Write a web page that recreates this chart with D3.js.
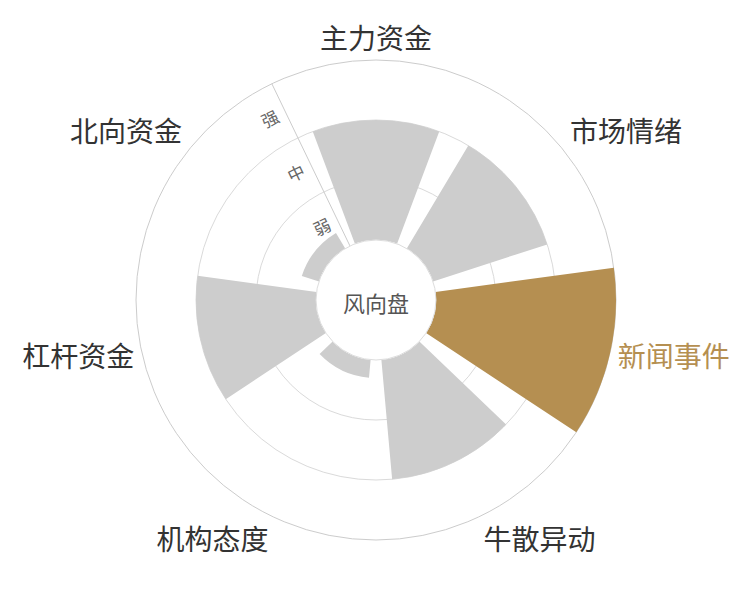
<!DOCTYPE html>
<html>
<head>
<meta charset="utf-8">
<script src="https://cdn.jsdelivr.net/npm/d3@7"></script>
<style>
  html, body { margin: 0; padding: 0; background: #fff; }
  #chart text { font-family: "Noto Sans CJK SC", "Noto Sans", sans-serif; }
</style>
</head>
<body>
<div id="chart"></div>
<script>
// categories round the dial, clockwise from the top
var categories = ["主力资金", "市场情绪", "新闻事件", "牛散异动", "机构态度", "杠杆资金", "北向资金"];
// strength of each category, 0..3 (弱 / 中 / 强 bands)
var strength = [2, 2, 3, 2, 0.3, 2, 0.3];
// radial tick labels
var levelLabels = ["弱", "中", "强"];
var highlightCategory = "新闻事件";
var centerTitle = "风向盘";

/**
 * Constructor for the wind dial
 */
function WindDial(){
    var self = this;
    self.init();
}; // end constructor

WindDial.prototype.init = function(){
    var self = this;
    self.width = 750;
    self.height = 600;
    self.cx = 376;
    self.cy = 300;
    self.innerR = 60;
    self.outerR = 240;

    self.svg = d3.select("#chart").append("svg")
        .attr("width", self.width)
        .attr("height", self.height)
        .append("g")
        .attr("transform", "translate(" + self.cx + "," + self.cy + ")");

    // angle scale, first band centred at the top
    var step = 2 * Math.PI / categories.length;
    self.x = d3.scaleBand()
        .domain(categories)
        .range([-step / 2, 2 * Math.PI - step / 2])
        .paddingInner(0.2)
        .paddingOuter(0.1);

    // radius scale
    self.y = d3.scaleLinear()
        .domain([0, levelLabels.length])
        .range([self.innerR, self.outerR]);

    // band scale for the 弱/中/强 labels
    self.yLevel = d3.scaleBand()
        .domain(levelLabels)
        .range([self.innerR, self.outerR]);

    self.update();
}; // end init()

WindDial.prototype.update = function(){
    var self = this;
    var data = categories.map(function(c, i){ return {cat: c, value: strength[i]}; });
    var axisAngle = self.x.range()[0];

    // grid circles
    self.svg.append("g")
        .selectAll("circle")
        .data(d3.range(1, levelLabels.length + 1))
        .enter()
        .append("circle")
        .attr("r", function(d){ return self.y(d); })
        .attr("fill", "none")
        .attr("stroke", function(d){ return d == levelLabels.length ? "#cccccc" : "#dadada"; })
        .attr("stroke-width", 1);

    // bars
    var arc = d3.arc()
        .innerRadius(self.y(0))
        .outerRadius(function(d){ return self.y(d.value); })
        .startAngle(function(d){ return self.x(d.cat); })
        .endAngle(function(d){ return self.x(d.cat) + self.x.bandwidth(); });

    self.svg.append("g")
        .selectAll("path")
        .data(data)
        .enter()
        .append("path")
        .attr("d", arc)
        .attr("fill", function(d){ return d.cat == highlightCategory ? "#b58f51" : "#cdcdcd"; });

    // radius axis line
    self.svg.append("line")
        .attr("x1", self.y(0) * Math.sin(axisAngle))
        .attr("y1", -self.y(0) * Math.cos(axisAngle))
        .attr("x2", self.outerR * Math.sin(axisAngle))
        .attr("y2", -self.outerR * Math.cos(axisAngle))
        .attr("stroke", "#cccccc");

    // radius labels, rotated with the axis
    var deg = axisAngle * 180 / Math.PI;
    self.svg.append("g")
        .selectAll("text")
        .data(levelLabels)
        .enter()
        .append("text")
        .attr("transform", function(d){
            var r = self.yLevel(d) + self.yLevel.bandwidth() / 2;
            var px = r * Math.sin(axisAngle) - 17 * Math.cos(axisAngle);
            var py = -r * Math.cos(axisAngle) - 17 * Math.sin(axisAngle);
            return "translate(" + px + "," + py + ") rotate(" + deg + ")";
        })
        .attr("text-anchor", "middle")
        .attr("dominant-baseline", "central")
        .attr("font-size", 17)
        .attr("fill", "#666")
        .text(function(d){ return d; });

    // centre disc
    self.svg.append("circle")
        .attr("r", self.innerR)
        .attr("fill", "#fff")
        .attr("stroke", "#dddddd");

    self.svg.append("text")
        .attr("y", 2)
        .attr("text-anchor", "middle")
        .attr("dominant-baseline", "central")
        .attr("font-size", 22)
        .attr("fill", "#555")
        .text(centerTitle);

    // category labels round the outside
    var labelR = self.outerR + 8;
    self.svg.append("g")
        .selectAll("text")
        .data(data)
        .enter()
        .append("text")
        .each(function(d){
            var a = self.x(d.cat) + self.x.bandwidth() / 2;
            var px = labelR * Math.sin(a);
            var py = -labelR * Math.cos(a);
            var anchor = Math.abs(px) / labelR < 0.3 ? "middle" : (px > 0 ? "start" : "end");
            var shift = Math.abs(py) / labelR < 0.3 ? 0 : (py > 0 ? 15 : -15);
            d3.select(this)
              .attr("x", px)
              .attr("y", py + shift)
              .attr("text-anchor", anchor);
        })
        .attr("dominant-baseline", "central")
        .attr("font-size", 28)
        .attr("fill", function(d){ return d.cat == highlightCategory ? "#b58f51" : "#333"; })
        .text(function(d){ return d.cat; });
}; // end update()

var dial = new WindDial();
</script>
</body>
</html>
